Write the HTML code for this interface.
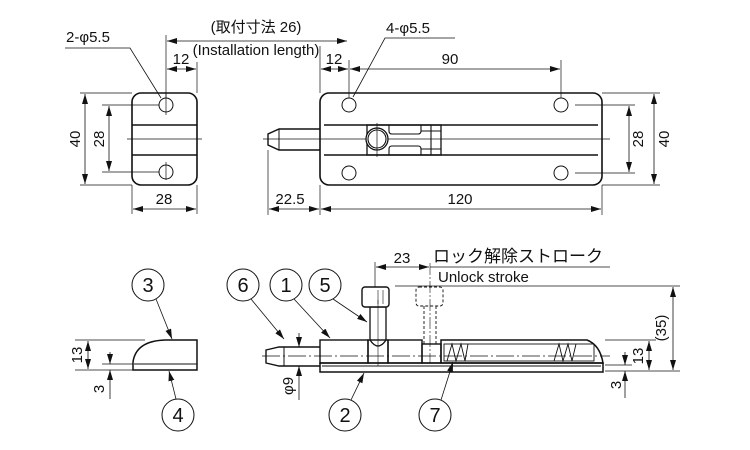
<!DOCTYPE html>
<html><head><meta charset="utf-8"><style>
html,body{margin:0;padding:0;background:#fff;width:750px;height:450px;overflow:hidden}
svg{display:block}
text{font-family:"Liberation Sans","Noto Sans CJK JP",sans-serif;fill:#111}
</style></head><body>
<svg width="750" height="450" viewBox="0 0 750 450" xmlns="http://www.w3.org/2000/svg">
<defs>
<marker id="a" viewBox="0 0 10 6" refX="10" refY="3" markerWidth="10" markerHeight="6" orient="auto-start-reverse" markerUnits="userSpaceOnUse"><path d="M0,0L10,3L0,6z" fill="#111"/></marker>
</defs>
<g stroke="#111" fill="none" stroke-width="1">
<!-- keeper top view -->
<rect x="132" y="93" width="65" height="92" rx="9" stroke-width="1.6"/>
<circle cx="166" cy="105" r="7"/><circle cx="166" cy="172" r="7"/>
<line x1="132" y1="125" x2="197" y2="125" stroke-width="1.4"/>
<line x1="132" y1="155" x2="197" y2="155" stroke-width="1.4"/>
<line x1="127" y1="139" x2="202" y2="139" stroke-width="0.7"/>
<line x1="166" y1="93" x2="166" y2="115" stroke-width="0.7"/>
<line x1="166" y1="162" x2="166" y2="180" stroke-width="0.7"/>
<line x1="80" y1="93" x2="132" y2="93" stroke-width="0.7"/>
<line x1="80" y1="185" x2="132" y2="185" stroke-width="0.7"/>
<line x1="102" y1="105" x2="159" y2="105" stroke-width="0.7"/>
<line x1="102" y1="172" x2="159" y2="172" stroke-width="0.7"/>
<line x1="85" y1="94" x2="85" y2="184" marker-start="url(#a)" marker-end="url(#a)" stroke-width="0.8"/>
<line x1="109" y1="106" x2="109" y2="171" marker-start="url(#a)" marker-end="url(#a)" stroke-width="0.8"/>
<line x1="132" y1="185" x2="132" y2="214" stroke-width="0.7"/>
<line x1="197" y1="185" x2="197" y2="214" stroke-width="0.7"/>
<line x1="133" y1="209" x2="196" y2="209" marker-start="url(#a)" marker-end="url(#a)" stroke-width="0.8"/>
<line x1="166" y1="35" x2="166" y2="98" stroke-width="0.7"/>
<line x1="197" y1="62" x2="197" y2="93" stroke-width="0.7"/>
<line x1="167" y1="69" x2="196" y2="69" marker-start="url(#a)" marker-end="url(#a)" stroke-width="0.8"/>
<line x1="167" y1="41" x2="347" y2="41" marker-start="url(#a)" marker-end="url(#a)" stroke-width="0.8"/>
<polyline points="65,48 130,48 161,98" stroke-width="0.8"/>
<!-- main top view -->
<rect x="320" y="93" width="282" height="92" rx="9" stroke-width="1.6"/>
<circle cx="349" cy="105" r="7"/><circle cx="561" cy="105" r="7"/>
<circle cx="349" cy="173" r="7"/><circle cx="561" cy="173" r="7"/>
<line x1="324" y1="125" x2="598" y2="125" stroke-width="1.4"/>
<line x1="324" y1="155" x2="598" y2="155" stroke-width="1.4"/>
<line x1="263" y1="139" x2="610" y2="139" stroke-width="0.7"/>
<path d="M320,129 H279 L268,134 V145 L279,150 H320" stroke-width="1.4"/>
<line x1="279" y1="129" x2="279" y2="150" stroke-width="1"/>
<rect x="367" y="125" width="74" height="30" stroke-width="1.3"/>
<path d="M389,125 V131 q0,3 3,3 H418 q3,0 3,-3 V125 M389,155 V149 q0,-3 3,-3 H418 q3,0 3,3 V155 M421,131 H441 M421,149 H441 M431,125 V155" stroke-width="1.1"/>
<circle cx="377" cy="139" r="11" fill="#fff" stroke-width="1.3"/>
<circle cx="377" cy="139" r="9" stroke-width="1.1"/>
<line x1="377" y1="123" x2="377" y2="157" stroke-width="0.7"/>
<line x1="349" y1="60" x2="349" y2="98" stroke-width="0.7"/>
<line x1="561" y1="60" x2="561" y2="98" stroke-width="0.7"/>
<line x1="320" y1="46" x2="320" y2="93" stroke-width="0.7"/>
<line x1="321" y1="69" x2="348" y2="69" marker-start="url(#a)" marker-end="url(#a)" stroke-width="0.8"/>
<line x1="350" y1="69" x2="560" y2="69" marker-start="url(#a)" marker-end="url(#a)" stroke-width="0.8"/>
<polyline points="455,38 385,38 353,97" stroke-width="0.8"/>
<line x1="268" y1="150" x2="268" y2="215" stroke-width="0.7"/>
<line x1="320" y1="185" x2="320" y2="215" stroke-width="0.7"/>
<line x1="602" y1="185" x2="602" y2="215" stroke-width="0.7"/>
<line x1="269" y1="209" x2="319" y2="209" marker-start="url(#a)" marker-end="url(#a)" stroke-width="0.8"/>
<line x1="321" y1="209" x2="601" y2="209" marker-start="url(#a)" marker-end="url(#a)" stroke-width="0.8"/>
<line x1="575" y1="105" x2="635" y2="105" stroke-width="0.7"/>
<line x1="575" y1="173" x2="635" y2="173" stroke-width="0.7"/>
<line x1="602" y1="93" x2="660" y2="93" stroke-width="0.7"/>
<line x1="602" y1="185" x2="660" y2="185" stroke-width="0.7"/>
<line x1="629" y1="106" x2="629" y2="172" marker-start="url(#a)" marker-end="url(#a)" stroke-width="0.8"/>
<line x1="654" y1="94" x2="654" y2="184" marker-start="url(#a)" marker-end="url(#a)" stroke-width="0.8"/>
<!-- keeper side view -->
<path d="M133,370 V362 Q136,341 165,340 H197 V370 Z" stroke-width="1.5"/>
<line x1="134" y1="364" x2="197" y2="364" stroke-width="1.1"/>
<line x1="75" y1="340" x2="145" y2="340" stroke-width="0.7"/>
<line x1="75" y1="370" x2="133" y2="370" stroke-width="0.7"/>
<line x1="102" y1="364" x2="133" y2="364" stroke-width="0.7"/>
<line x1="88" y1="341" x2="88" y2="369" marker-start="url(#a)" marker-end="url(#a)" stroke-width="0.8"/>
<line x1="110" y1="352" x2="110" y2="364" marker-end="url(#a)" stroke-width="0.8"/>
<line x1="110" y1="399" x2="110" y2="370" marker-end="url(#a)" stroke-width="0.8"/>
<circle cx="148" cy="285" r="16"/>
<line x1="156" y1="299" x2="172" y2="339" marker-end="url(#a)" stroke-width="0.8"/>
<circle cx="178" cy="415" r="16"/>
<line x1="176" y1="399" x2="169" y2="371" marker-end="url(#a)" stroke-width="0.8"/>
<!-- main side view -->
<path d="M320,347 H279 L266,350 V363 L279,366 H320" stroke-width="1.4"/>
<line x1="284" y1="347" x2="284" y2="366" stroke-width="1"/>
<rect x="320" y="363" width="283" height="9" stroke-width="1.5"/>
<line x1="322" y1="366" x2="601" y2="366" stroke-width="0.9"/>
<rect x="320" y="340" width="48" height="23" stroke-width="1.4"/>
<rect x="368" y="340" width="20" height="23" stroke-width="1.4"/>
<rect x="388" y="340" width="34" height="23" stroke-width="1.4"/>
<rect x="422" y="344" width="19" height="19" stroke-width="1.4"/>
<path d="M441,363 V340 H587 Q600,345 603,363 Z" stroke-width="1.5"/>
<rect x="444" y="344" width="150" height="17" stroke-width="0.9"/>
<polyline points="447,361 452,344 456,361 461,344 465,361 468,344" stroke-width="0.9"/>
<polyline points="554,361 559,344 563,361 568,344 572,361 576,344" stroke-width="0.9"/>
<path d="M370,340 V307 H386 V340" stroke-width="1.3"/>
<path d="M370,340 Q378,352 386,340" stroke-width="1.3"/>
<rect x="362" y="287" width="27" height="20" rx="3" stroke-width="1.4" fill="#fff"/>
<line x1="378" y1="290" x2="378" y2="304" stroke-width="0.6"/>
<line x1="383" y1="290" x2="383" y2="304" stroke-width="0.6"/>
<g stroke-dasharray="3,2" stroke-width="0.9"><rect x="416" y="287" width="27" height="19" rx="3"/><path d="M424,306 V344 M436,306 V344"/></g>
<line x1="262" y1="356" x2="610" y2="356" stroke-width="0.7" stroke-dasharray="18,3,2,3"/>
<line x1="378" y1="300" x2="378" y2="366" stroke-width="0.6"/>
<line x1="430" y1="263" x2="430" y2="363" stroke-width="0.6" stroke-dasharray="12,2,2,2"/>
<line x1="375" y1="262" x2="375" y2="287" stroke-width="0.7"/>
<line x1="376" y1="267" x2="429" y2="267" marker-start="url(#a)" marker-end="url(#a)" stroke-width="0.8"/>
<line x1="430" y1="267" x2="610" y2="267" stroke-width="0.7"/>
<line x1="395" y1="286" x2="680" y2="286" stroke-width="0.7"/>
<line x1="605" y1="340" x2="656" y2="340" stroke-width="0.7"/>
<line x1="605" y1="371" x2="680" y2="371" stroke-width="0.7"/>
<line x1="605" y1="365" x2="632" y2="365" stroke-width="0.7"/>
<line x1="673" y1="287" x2="673" y2="370" marker-start="url(#a)" marker-end="url(#a)" stroke-width="0.8"/>
<line x1="649" y1="341" x2="649" y2="370" marker-start="url(#a)" marker-end="url(#a)" stroke-width="0.8"/>
<line x1="625" y1="352" x2="625" y2="365" marker-end="url(#a)" stroke-width="0.8"/>
<line x1="625" y1="398" x2="625" y2="371" marker-end="url(#a)" stroke-width="0.8"/>
<line x1="299" y1="333" x2="299" y2="347" marker-end="url(#a)" stroke-width="0.8"/>
<line x1="299" y1="400" x2="299" y2="366" marker-end="url(#a)" stroke-width="0.8"/>
<!-- balloons -->
<circle cx="243" cy="285" r="16"/><circle cx="286" cy="285" r="16"/><circle cx="325" cy="285" r="16"/>
<circle cx="345" cy="415" r="16"/><circle cx="435" cy="415" r="16"/>
<line x1="251" y1="299" x2="284" y2="339" marker-end="url(#a)" stroke-width="0.8"/>
<line x1="294" y1="299" x2="330" y2="338" marker-end="url(#a)" stroke-width="0.8"/>
<line x1="333" y1="299" x2="367" y2="322" marker-end="url(#a)" stroke-width="0.8"/>
<line x1="351" y1="400" x2="364" y2="373" marker-end="url(#a)" stroke-width="0.8"/>
<line x1="441" y1="400" x2="453" y2="362" marker-end="url(#a)" stroke-width="0.8"/>
</g>
<g font-size="15">
<text x="66" y="42">2-φ5.5</text>
<text x="256" y="32" text-anchor="middle">(取付寸法 26)</text>
<text x="256" y="55" text-anchor="middle">(Installation length)</text>
<text x="181" y="64" text-anchor="middle">12</text>
<text x="334" y="64" text-anchor="middle">12</text>
<text x="450" y="64" text-anchor="middle">90</text>
<text x="408" y="33" text-anchor="middle">4-φ5.5</text>
<text x="164" y="204" text-anchor="middle">28</text>
<text x="290" y="204" text-anchor="middle">22.5</text>
<text x="460" y="204" text-anchor="middle">120</text>
<text transform="translate(80,139) rotate(-90)" text-anchor="middle">40</text>
<text transform="translate(104,139) rotate(-90)" text-anchor="middle">28</text>
<text transform="translate(643,139) rotate(-90)" text-anchor="middle">28</text>
<text transform="translate(669,139) rotate(-90)" text-anchor="middle">40</text>
<text x="402" y="263" text-anchor="middle">23</text>
<text x="433" y="262" font-size="17">ロック解除ストローク</text>
<text x="438" y="282">Unlock stroke</text>
<text transform="translate(666,328) rotate(-90)" text-anchor="middle">(35)</text>
<text transform="translate(643,356) rotate(-90)" text-anchor="middle">13</text>
<text transform="translate(621,385) rotate(-90)" text-anchor="middle">3</text>
<text transform="translate(82,355) rotate(-90)" text-anchor="middle">13</text>
<text transform="translate(104,389) rotate(-90)" text-anchor="middle">3</text>
<text transform="translate(293,386) rotate(-90)" text-anchor="middle">φ9</text>
</g>
<g font-size="20" text-anchor="middle">
<text x="148" y="292">3</text><text x="178" y="422">4</text>
<text x="243" y="292">6</text><text x="286" y="292">1</text><text x="325" y="292">5</text>
<text x="345" y="422">2</text><text x="435" y="422">7</text>
</g>
</svg>
</body></html>
